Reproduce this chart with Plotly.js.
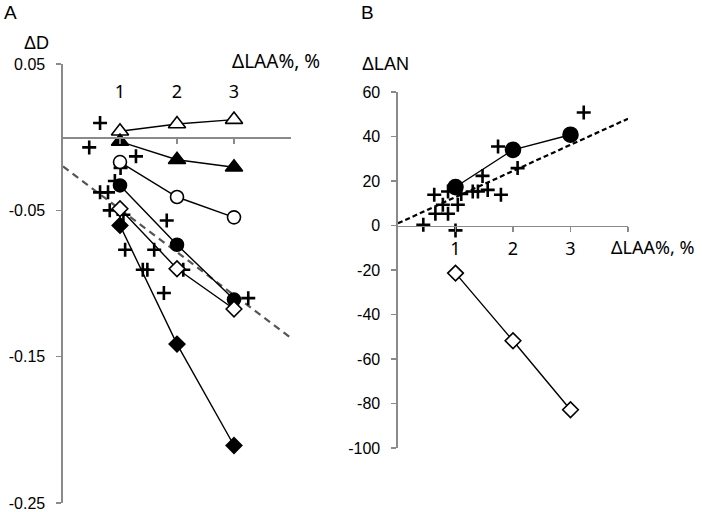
<!DOCTYPE html>
<html>
<head>
<meta charset="utf-8">
<script src="https://cdn.plot.ly/plotly-3.0.1.min.js"></script>
<style>html,body{margin:0;padding:0;background:#fff;}#chart{width:702px;height:512px;}</style>
</head>
<body>
<div id="chart"></div>
<script>
// ---------- Data ----------
const xLevels = [1, 2, 3];

// Panel A: ΔD vs ΔLAA%
const dTriOpen    = [0.004, 0.009, 0.012];
const dTriFilled  = [-0.003, -0.0154, -0.0206];
const dCircOpen   = [-0.017, -0.0409, -0.0548];
const dCircFilled = [-0.033, -0.0735, -0.111];
const dDiamOpen   = [-0.0489, -0.0899, -0.1174];
const dDiamFilled = [-0.0603, -0.1414, -0.2107];
const dPlusX = [0.65, 0.46, 1.28, 1.01, 0.91, 0.65, 0.79, 0.82, 1.06, 1.82, 1.09, 1.60, 1.40, 1.48, 2.11, 1.77, 3.25];
const dPlusY = [0.0097, -0.007, -0.0131, -0.021, -0.030, -0.0377, -0.0377, -0.050, -0.053, -0.0569, -0.0769, -0.0769, -0.0906, -0.0906, -0.0906, -0.1065, -0.110];
const dFitX = [0.0, 4.0];
const dFitY = [-0.020, -0.1372];

// Panel B: ΔLAN vs ΔLAA%
const lanCircFilled = [17.3, 34.0, 40.8];
const lanDiamOpen   = [-21.4, -51.8, -82.8];
const lanPlusX = [3.23, 1.74, 2.08, 1.47, 0.63, 0.87, 1.10, 1.30, 1.39, 1.56, 1.79, 0.78, 1.04, 0.65, 0.87, 0.44, 1.00];
const lanPlusY = [50.8, 35.5, 25.8, 22.3, 13.8, 15.3, 14.2, 15.3, 15.3, 16.0, 13.8, 9.3, 9.3, 5.3, 5.3, 0.3, -2.2];
const lanFitX = [0.0, 4.0];
const lanFitY = [1.0, 48.0];

// Tick labels
const xTickVals = [1, 2, 3, 4];
const xTickText = ['1', '2', '3', ''];
const dTickVals = [0.05, -0.05, -0.15, -0.25];
const dTickText = ['0.05', '-0.05', '-0.15', '-0.25'];
const lanTickVals = [60, 40, 20, 0, -20, -40, -60, -80, -100];
const lanTickText = ['60', '40', '20', '0', '-20', '-40', '-60', '-80', '-100'];

// ---------- Styling ----------
const W = 702, H = 512;
const axisGray = '#8a8a8a';
const lineStyle = {color: '#000', width: 1.4};

function series(x, y, symbol, fill, size, xa, ya) {
  return {
    x: x, y: y, xaxis: xa, yaxis: ya, type: 'scatter', mode: 'lines+markers',
    line: lineStyle,
    marker: {symbol: symbol, size: size, color: fill, line: {color: '#000', width: 1.6}},
    showlegend: false, hoverinfo: 'skip'
  };
}
function plus(x, y, xa, ya) {
  return {
    x: x, y: y, xaxis: xa, yaxis: ya, type: 'scatter', mode: 'markers',
    marker: {symbol: 'cross-thin', size: 10, line: {color: '#000', width: 2.6}},
    showlegend: false, hoverinfo: 'skip', cliponaxis: false
  };
}
function fit(x, y, color, dash, xa, ya) {
  return {
    x: x, y: y, xaxis: xa, yaxis: ya, type: 'scatter', mode: 'lines',
    line: {color: color, width: 2.2, dash: dash},
    showlegend: false, hoverinfo: 'skip'
  };
}

const traces = [
  fit(dFitX, dFitY, '#555555', '7px,5px', 'x', 'y'),
  plus(dPlusX, dPlusY, 'x', 'y'),
  series(xLevels, dTriOpen, 'triangle-up', '#fff', 15, 'x', 'y'),
  series(xLevels, dTriFilled, 'triangle-up', '#000', 15, 'x', 'y'),
  series(xLevels, dCircOpen, 'circle', '#fff', 13, 'x', 'y'),
  series(xLevels, dCircFilled, 'circle', '#000', 13, 'x', 'y'),
  series(xLevels, dDiamOpen, 'diamond', '#fff', 12, 'x', 'y'),
  series(xLevels, dDiamFilled, 'diamond', '#000', 12, 'x', 'y'),

  fit(lanFitX, lanFitY, '#000', '5px,3px', 'x2', 'y2'),
  plus(lanPlusX, lanPlusY, 'x2', 'y2'),
  series(xLevels, lanCircFilled, 'circle', '#000', 15, 'x2', 'y2'),
  series(xLevels, lanDiamOpen, 'diamond', '#fff', 12, 'x2', 'y2')
];

// Domains in paper fractions
const xDomA = [63 / W, 291 / W];
const yDomA = [1 - 503 / H, 1 - 64 / H];
const yRangeA = [-0.25, 0.05];
const xDomB = [398 / W, 628 / W];
const yDomB = [1 - 448 / H, 1 - 92 / H];
const yRangeB = [-100, 60];
function zeroPos(dom, rng) {
  return dom[0] + (0 - rng[0]) / (rng[1] - rng[0]) * (dom[1] - dom[0]);
}

const yTickFont = {family: 'Liberation Sans, Arial, sans-serif', size: 16, color: '#000'};
const xTickFont = {family: 'Noto Sans, sans-serif', size: 18, color: '#000'};

const baseAxis = {
  showline: true, linecolor: axisGray, linewidth: 1.6,
  showgrid: false, zeroline: false, fixedrange: true,
  tickcolor: axisGray, tickwidth: 1.3, ticklen: 5, tickmode: 'array'
};

const layout = {
  width: W, height: H,
  margin: {l: 0, r: 0, t: 0, b: 0},
  paper_bgcolor: '#fff', plot_bgcolor: 'rgba(0,0,0,0)',
  showlegend: false,
  xaxis: Object.assign({}, baseAxis, {
    domain: xDomA, range: [0, 4], anchor: 'free', position: zeroPos(yDomA, yRangeA),
    side: 'top', ticks: 'inside', tickvals: xTickVals, ticktext: xTickText,
    tickfont: xTickFont, ticklabelstandoff: 32
  }),
  yaxis: Object.assign({}, baseAxis, {
    domain: yDomA, range: yRangeA, anchor: 'x', side: 'left', ticks: 'outside',
    tickvals: dTickVals, ticktext: dTickText, tickfont: yTickFont, ticklabelstandoff: 8
  }),
  xaxis2: Object.assign({}, baseAxis, {
    domain: xDomB, range: [0, 4], anchor: 'free', position: zeroPos(yDomB, yRangeB),
    side: 'bottom', ticks: 'outside', tickvals: xTickVals, ticktext: xTickText,
    tickfont: xTickFont, ticklabelstandoff: 1
  }),
  yaxis2: Object.assign({}, baseAxis, {
    domain: yDomB, range: yRangeB, anchor: 'x2', side: 'left', ticks: 'outside',
    tickvals: lanTickVals, ticktext: lanTickText, tickfont: yTickFont, ticklabelstandoff: 8
  }),
  annotations: [
    {text: 'A', x: 2 / W, y: 1 - 12.5 / H, xanchor: 'left', yanchor: 'middle', font: {size: 19}},
    {text: 'B', x: 359 / W, y: 1 - 12.5 / H, xanchor: 'left', yanchor: 'middle', font: {size: 19}},
    {text: 'ΔD', x: 36.5 / W, y: 1 - 42.5 / H, xanchor: 'center', yanchor: 'middle', font: {size: 18}},
    {text: 'ΔLAN', x: 385 / W, y: 1 - 64 / H, xanchor: 'center', yanchor: 'middle', font: {size: 18}},
    {text: 'ΔLAA%, %', x: 230 / W, y: 1 - 61 / H, xanchor: 'left', yanchor: 'middle', font: {family: 'Noto Sans, sans-serif', size: 19}},
    {text: 'ΔLAA%, %', x: 609 / W, y: 1 - 247 / H, xanchor: 'left', yanchor: 'middle', font: {family: 'Noto Sans, sans-serif', size: 18}}
  ].map(a => Object.assign({
    xref: 'paper', yref: 'paper', showarrow: false
  }, a, {font: Object.assign({family: 'Liberation Sans, Arial, sans-serif', size: 17, color: '#000'}, a.font || {})}))
};

Plotly.newPlot('chart', traces, layout, {staticPlot: true, displayModeBar: false});
</script>
</body>
</html>
